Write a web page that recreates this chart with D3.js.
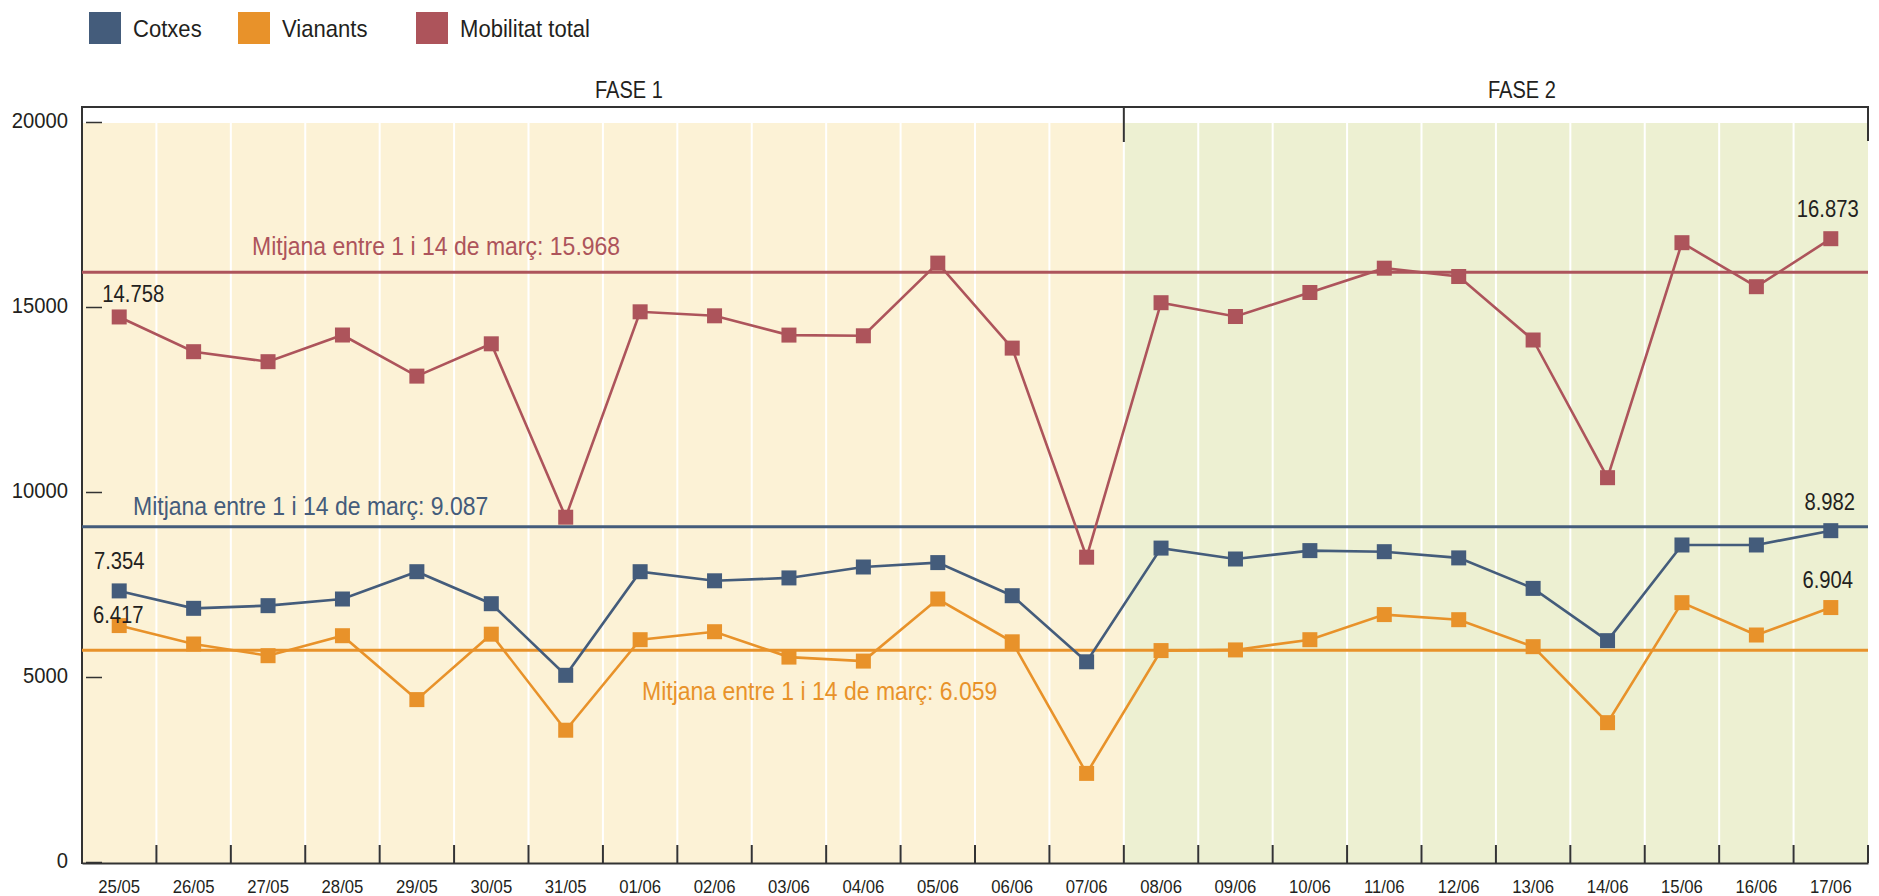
<!DOCTYPE html>
<html>
<head>
<meta charset="utf-8">
<script src="https://cdn.jsdelivr.net/npm/d3@7"></script>
<style>
  body { margin: 0; background: #fff; }
  svg text { font-family: "Liberation Sans", Arial, "DejaVu Sans Condensed", sans-serif; fill: #231f20; }
</style>
</head>
<body>
<div id="chart"></div>
<script>
// dades
var dates = ["25/05","26/05","27/05","28/05","29/05","30/05","31/05","01/06","02/06","03/06","04/06","05/06",
             "06/06","07/06","08/06","09/06","10/06","11/06","12/06","13/06","14/06","15/06","16/06","17/06"];
var cotxes   = [7354, 6883, 6955, 7135, 7873, 7008, 5073, 7873, 7627, 7705, 8000, 8119,
                7224, 5438, 8511, 8216, 8443, 8414, 8246, 7422, 6009, 8595, 8595, 8982];
var vianants = [6417, 5919, 5603, 6143, 4416, 6184, 3589, 6035, 6251, 5565, 5457, 7135,
                5978, 2422, 5741, 5759, 6035, 6714, 6576, 5847, 3793, 7036, 6162, 6904];
var total    = [14758, 13819, 13549, 14270, 13159, 14032, 9346, 14897, 14789, 14268, 14249, 16213,
                13916, 8265, 15143, 14770, 15419, 16076, 15851, 14135, 10414, 16765, 15576, 16873];
var yTicks = [0, 5000, 10000, 15000, 20000];
var serieNames = ["Cotxes", "Vianants", "Mobilitat total"];
// mitjanes entre 1 i 14 de març (text) i posició on està dibuixada la línia
var mitjanaText  = [15968, 9087, 6059];
var mitjanaLinia = [15968, 9087, 5750];
var fases = ["FASE 1", "FASE 2"];
var faseDies = [14, 10];

var colors = ["#445c7b", "#e8922a", "#ad545b"];
var W = 1879, H = 896;
var mLeft = 82, mRight = 1868, mTop = 123, mBottom = 863;
var fmt = function(v) { return d3.format(",")(v).replace(/,/g, "."); };

// lletra estreta: escala horitzontal del text al voltant del seu punt d'ancoratge
function narrow(sel, k) {
  sel.each(function() {
    var t = d3.select(this);
    var xx = +t.attr("x") || 0;
    t.attr("x", 0).attr("transform", "translate(" + xx + ",0) scale(" + k + ",1)");
  });
}

var svg = d3.select("#chart").append("svg")
  .attr("width", W).attr("height", H);

var x = d3.scaleBand().domain(dates).range([mLeft, mRight]).padding(0);
var y = d3.scaleLinear().domain([0, 20000]).range([mBottom, mTop]);
var bw = x.bandwidth();

// fons de les fases
var faseStart = [dates[0], dates[faseDies[0]]];
var faseEnd = [x(dates[faseDies[0]]), mRight];
var faseFill = ["#fcf2d6", "#edf0d2"];
fases.forEach(function(f, k) {
  svg.append("rect")
    .attr("x", x(faseStart[k])).attr("y", mTop)
    .attr("width", faseEnd[k] - x(faseStart[k])).attr("height", mBottom - mTop)
    .attr("fill", faseFill[k]);
  svg.append("text")
    .attr("x", (x(faseStart[k]) + faseEnd[k]) / 2 + 26)
    .attr("y", 98)
    .attr("text-anchor", "middle")
    .style("font-size", "23px")
    .text(f)
    .call(narrow, 0.87);
});

// línies verticals blanques
svg.selectAll(".grid").data(dates.slice(1)).enter()
  .append("line")
  .attr("class", "grid")
  .attr("x1", function(d) { return x(d); }).attr("x2", function(d) { return x(d); })
  .attr("y1", mTop).attr("y2", mBottom)
  .attr("stroke", "#fff").attr("stroke-width", 2);

// marc superior de les fases
var frame = "#333";
svg.append("line").attr("x1", mLeft).attr("x2", mRight).attr("y1", 107).attr("y2", 107)
  .attr("stroke", frame).attr("stroke-width", 2);
svg.append("line").attr("x1", x(dates[faseDies[0]])).attr("x2", x(dates[faseDies[0]]))
  .attr("y1", 106).attr("y2", 142).attr("stroke", frame).attr("stroke-width", 2);
svg.append("line").attr("x1", mRight).attr("x2", mRight)
  .attr("y1", 106).attr("y2", 141).attr("stroke", frame).attr("stroke-width", 2);

// eix Y
var yAxis = svg.append("g")
  .attr("transform", "translate(" + (mLeft + 4) + ",0)")
  .call(d3.axisRight(y).tickValues(yTicks).tickSize(16).tickFormat(d3.format("d")));
yAxis.select(".domain").remove();
yAxis.selectAll(".tick line").attr("stroke", frame).attr("stroke-width", 1.5)
  .attr("transform", "translate(0,-1)");
yAxis.selectAll(".tick text")
  .attr("x", -18).attr("dy", "0.2em")
  .attr("text-anchor", "end")
  .style("font-size", "22px")
  .call(narrow, 0.92);
svg.append("line").attr("x1", mLeft).attr("x2", mLeft).attr("y1", 106).attr("y2", mBottom + 1)
  .attr("stroke", frame).attr("stroke-width", 2);

// eix X
var xAxis = svg.append("g")
  .attr("transform", "translate(0," + mBottom + ")")
  .call(d3.axisBottom(x).tickSize(0));
xAxis.select(".domain").attr("stroke", frame).attr("stroke-width", 2);
xAxis.selectAll(".tick text")
  .attr("y", 30).attr("dy", 0)
  .style("font-size", "19px")
  .call(narrow, 0.88);
svg.selectAll(".xtick").data(dates.slice(1).concat([null])).enter()
  .append("line")
  .attr("class", "xtick")
  .attr("x1", function(d) { return d ? x(d) : mRight; })
  .attr("x2", function(d) { return d ? x(d) : mRight; })
  .attr("y1", mBottom - 18).attr("y2", mBottom)
  .attr("stroke", frame).attr("stroke-width", 2);

// línies de mitjana
var meanColors = [colors[2], colors[0], colors[1]];
var meanLabelPos = [[252, -17], [133, -12], [642, 50]];
mitjanaLinia.forEach(function(v, k) {
  svg.append("line")
    .attr("x1", mLeft).attr("x2", mRight)
    .attr("y1", y(v)).attr("y2", y(v))
    .attr("stroke", meanColors[k]).attr("stroke-width", 3);
  svg.append("text")
    .attr("x", meanLabelPos[k][0])
    .attr("y", y(v) + meanLabelPos[k][1])
    .style("font-size", "25px")
    .style("fill", meanColors[k])
    .text("Mitjana entre 1 i 14 de març: " + fmt(mitjanaText[k]))
    .call(narrow, 0.92);
});

// sèries
var series = [
  { name: "vianants", values: vianants, color: colors[1] },
  { name: "cotxes", values: cotxes, color: colors[0] },
  { name: "total", values: total, color: colors[2] }
];
var line = d3.line()
  .x(function(d, i) { return x(dates[i]) + bw / 2; })
  .y(function(d) { return y(d); });

series.forEach(function(s) {
  svg.append("path")
    .datum(s.values)
    .attr("d", line)
    .attr("fill", "none")
    .attr("stroke", s.color)
    .attr("stroke-width", 2.6);
  svg.selectAll(".m-" + s.name).data(s.values).enter()
    .append("rect")
    .attr("class", "m-" + s.name)
    .attr("x", function(d, i) { return x(dates[i]) + bw / 2 - 7.5; })
    .attr("y", function(d) { return y(d) - 7.5; })
    .attr("width", 15).attr("height", 15)
    .attr("fill", s.color);
});

// etiquetes de valor (primer i últim dia)
var etiquetes = [
  { values: total, i: 0, dx: 14, dy: -15 },
  { values: cotxes, i: 0, dx: 0, dy: -22 },
  { values: vianants, i: 0, dx: -1, dy: -3 },
  { values: total, i: 23, dx: -3, dy: -22 },
  { values: cotxes, i: 23, dx: -1, dy: -21 },
  { values: vianants, i: 23, dx: -3, dy: -20 }
];
etiquetes.forEach(function(e) {
  var v = e.values[e.i];
  svg.append("text")
    .attr("x", x(dates[e.i]) + bw / 2 + e.dx)
    .attr("y", y(v) + e.dy)
    .attr("text-anchor", "middle")
    .style("font-size", "23px")
    .text(fmt(v))
    .call(narrow, 0.88);
});

// llegenda
var legendX = [89, 238, 416];
serieNames.forEach(function(n, k) {
  svg.append("rect")
    .attr("x", legendX[k]).attr("y", 12)
    .attr("width", 32).attr("height", 32)
    .attr("fill", colors[k]);
  svg.append("text")
    .attr("x", legendX[k] + 44).attr("y", 37)
    .style("font-size", "24px")
    .text(n)
    .call(narrow, 0.92);
});
</script>
</body>
</html>
